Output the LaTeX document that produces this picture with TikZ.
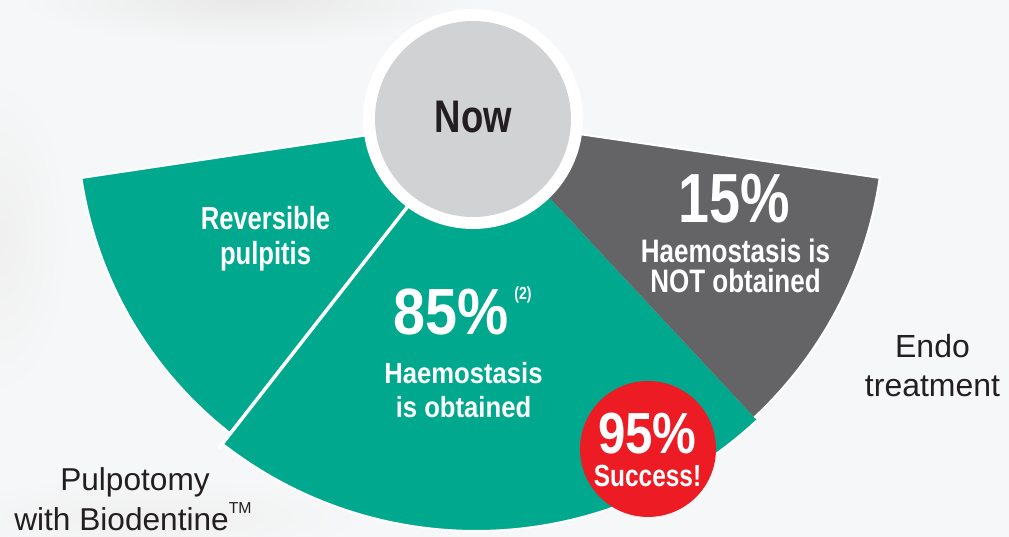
\documentclass[tikz,border=0pt]{standalone}
\usepackage{fontspec}
\usepackage{graphicx}
\newfontfamily\cond{Liberation Sans}[FakeStretch=0.8]
\newfontfamily\lightf{Liberation Sans}
\definecolor{pgreen}{RGB}{0,168,142}
\definecolor{pdark}{RGB}{100,100,102}
\definecolor{nowgray}{RGB}{209,210,212}
\definecolor{pred}{RGB}{237,28,36}
\definecolor{txtdark}{RGB}{35,31,32}
\definecolor{bgc}{RGB}{246,247,248}
\begin{document}
\begin{tikzpicture}[x=0.02cm,y=0.02cm,
  lbl/.style={inner sep=0, outer sep=0, anchor=base, text=white, font=\cond\bfseries},
  side/.style={inner sep=0, outer sep=0, anchor=base, text=txtdark, font=\lightf},
  rim/.style={draw=white, line width=0.04cm},
  disc/.style={circle, inner sep=0, outer sep=0}]
\useasboundingbox (0,0) rectangle (1009,537);
\fill[bgc] (0,0) rectangle (1009,537);
\shade[inner color=black!9, outer color=bgc] (250,537) ellipse (230 and 45);
\shade[inner color=black!6, outer color=bgc] (0,300) ellipse (70 and 160);
\shade[inner color=black!6, outer color=bgc] (150,20) ellipse (220 and 40);
\coordinate (C) at (476,418);
% sectors
\fill[pgreen] (C) -- ++(188.5:399) arc[start angle=188.5, end angle=232, radius=399] -- cycle;
\fill[pgreen] (C) -- ++(232:412) arc[start angle=232, end angle=313, radius=412] -- cycle;
\fill[pdark] (C) -- ++(313:408) arc[start angle=313, end angle=351.7, radius=408] -- cycle;
\draw[rim] (C) -- ++(188.5:399) arc[start angle=188.5, end angle=232, radius=399];
\draw[rim] (C) ++(232:412) arc[start angle=232, end angle=313, radius=412];
\draw[rim] (C) ++(313:408) arc[start angle=313, end angle=351.7, radius=408] -- (C);
\draw[white, line width=0.07cm] (C) -- ++(232:418);
% centre circle
\node[disc, fill=white, minimum size=4.4cm] (ring) at (473,418) {};
\node[disc, fill=nowgray, minimum size=3.92cm] (nowc) at (473,418) {};
\node[lbl, text=txtdark] (now) at (473.5,404) {\fontsize{26}{26}\selectfont Now};
% red badge
\node[disc, fill=pred, minimum size=2.72cm] (badge) at (648,88) {};
\node[lbl] (p95) at (647.5,83) {\scalebox{1.06}[1]{\fontsize{33}{33}\selectfont 95\%}};
\node[lbl] (succ) at (647.5,50) {\fontsize{17.4}{17.4}\selectfont Success!};
% left sector text
\node[lbl] (rev1) at (265.5,307) {\fontsize{18.2}{18.2}\selectfont Reversible};
\node[lbl] (rev2) at (265.5,272) {\fontsize{18.2}{18.2}\selectfont pulpitis};
% middle sector text
\node[lbl] (p85) at (451,202) {\scalebox{1.1}[1]{\fontsize{37.2}{37.2}\selectfont 85\%}};
\node[lbl] (ref2) at (523,237) {\fontsize{10}{10}\selectfont (2)};
\node[lbl] (hg1) at (463.5,153) {\scalebox{1.1}[1]{\fontsize{16.6}{16.6}\selectfont Haemostasis}};
\node[lbl] (hg2) at (463.5,119) {\scalebox{1.1}[1]{\fontsize{16.6}{16.6}\selectfont is obtained}};
% grey sector text
\node[lbl] (p15) at (734.5,314) {\fontsize{39.6}{39.6}\selectfont 15\%};
\node[lbl] (hd1) at (735.5,274) {\fontsize{18.5}{18.5}\selectfont Haemostasis is};
\node[lbl] (hd2) at (735.5,244) {\fontsize{18.5}{18.5}\selectfont NOT obtained};
% side labels
\node[side] (endo1) at (932.5,179) {\fontsize{18.2}{18.2}\selectfont Endo};
\node[side] (endo2) at (932.5,140) {\fontsize{18.2}{18.2}\selectfont treatment};
\node[side] (pul1) at (135,46) {\fontsize{18}{18}\selectfont Pulpotomy};
\node[side] (pul2) at (133,6) {\fontsize{18}{18}\selectfont with Biodentine\raisebox{0.55em}{\fontsize{9}{9}\selectfont TM}};
\end{tikzpicture}
\end{document}
